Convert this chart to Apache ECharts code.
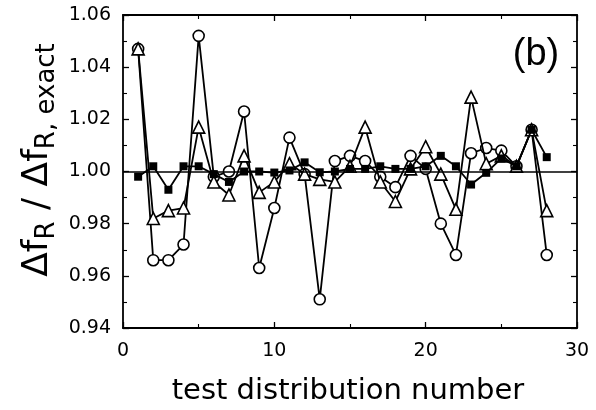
<!DOCTYPE html>
<html><head><meta charset="utf-8">
<script src="https://cdn.jsdelivr.net/npm/echarts@6/dist/echarts.min.js"></script>
<style>html,body{margin:0;padding:0;background:#fff}#c{width:596px;height:410px}</style>
</head><body><div id="c"></div>
<script>
const xValues = [1,2,3,4,5,6,7,8,9,10,11,12,13,14,15,16,17,18,19,20,21,22,23,24,25,26,27,28];
const circles = [1.047,0.966,0.966,0.972,1.052,0.998,1.000,1.023,0.963,0.986,1.013,0.999,0.951,1.004,1.006,1.004,0.998,0.994,1.006,1.001,0.980,0.968,1.007,1.009,1.008,1.002,1.016,0.968];
const triangles = [1.047,0.982,0.985,0.986,1.017,0.996,0.991,1.006,0.992,0.996,1.003,0.999,0.997,0.996,1.002,1.017,0.996,0.9885,1.001,1.0095,0.999,0.9855,1.0285,1.003,1.006,1.002,1.016,0.985];
const squares = [0.998,1.002,0.993,1.002,1.002,0.999,0.996,1.000,1.000,0.9996,1.0004,1.0035,0.9997,1.000,1.001,1.001,1.002,1.001,1.001,1.002,1.006,1.002,0.995,0.9995,1.005,1.002,1.016,1.0055];
const refValue = 1.00;
const xMin = 0, xMax = 30, xStep = 10;
const yMin = 0.94, yMax = 1.06, yStep = 0.02;
const xTitle = 'test distribution number';
const panelLabel = '(b)';

const FONT = 'DejaVu Sans';
const pair = (ys) => xValues.map((x, i) => [x, ys[i]]);
const axisCommon = {
  axisLine: { show: true, onZero: false, lineStyle: { color: '#000', width: 1.8 } },
  axisTick: { show: true, inside: true, length: 6, lineStyle: { color: '#000', width: 1.3 } },
  minorTick: { show: true, splitNumber: 2, length: 4, lineStyle: { color: '#000', width: 1.1 } },
  splitLine: { show: false }
};
const chart = echarts.init(document.getElementById('c'), null, { renderer: 'canvas' });
chart.setOption({
  animation: false,
  backgroundColor: '#fff',
  grid: { left: 123, right: 19, top: 15, bottom: 82 },
  xAxis: [
    Object.assign({ type: 'value', min: xMin, max: xMax, interval: xStep, position: 'bottom',
      axisLabel: { color: '#000', fontFamily: FONT, fontSize: 19, margin: 14 } }, axisCommon),
    Object.assign({ type: 'value', min: xMin, max: xMax, interval: xStep, position: 'top',
      axisLabel: { show: false } }, axisCommon)
  ],
  yAxis: [
    Object.assign({ type: 'value', min: yMin, max: yMax, interval: yStep, position: 'left',
      axisLabel: { color: '#000', fontFamily: FONT, fontSize: 19, margin: 12,
        formatter: v => v.toFixed(2) } }, axisCommon),
    Object.assign({ type: 'value', min: yMin, max: yMax, interval: yStep, position: 'right',
      axisLabel: { show: false } }, axisCommon)
  ],
  series: [
    { type: 'line', name: 'circles', data: pair(circles), symbol: 'circle', symbolSize: 11,
      lineStyle: { color: '#000', width: 1.8 },
      itemStyle: { color: '#fff', borderColor: '#000', borderWidth: 1.6 }, z: 2,
      markLine: { silent: true, symbol: 'none', label: { show: false },
        lineStyle: { color: '#000', width: 1.6, type: 'solid' }, data: [{ yAxis: refValue }] } },
    { type: 'line', name: 'triangles', data: pair(triangles), symbol: 'triangle', symbolSize: 12,
      lineStyle: { color: '#000', width: 1.8 },
      itemStyle: { color: '#fff', borderColor: '#000', borderWidth: 1.6 }, z: 3 },
    { type: 'line', name: 'squares', data: pair(squares), symbol: 'rect', symbolSize: 8,
      lineStyle: { color: '#000', width: 1.8 },
      itemStyle: { color: '#000', borderColor: '#000', borderWidth: 0 }, z: 4 }
  ],
  graphic: [
    { type: 'text', x: 348, y: 391, style: { text: xTitle, fontFamily: FONT, fontSize: 29,
      fill: '#000', textAlign: 'center', textVerticalAlign: 'middle' } },
    { type: 'text', x: 536, y: 55, style: { text: panelLabel, fontFamily: 'Liberation Sans', fontSize: 38,
      fill: '#000', textAlign: 'center', textVerticalAlign: 'middle' } },
    { type: 'text', x: 40, y: 160, rotation: Math.PI / 2,
      style: { text: '{m|Δf}{s|R}{m| / Δf}{s|R, exact}', textAlign: 'center', textVerticalAlign: 'middle',
        fill: '#000',
        rich: {
          m: { fontFamily: FONT, fontSize: 36, lineHeight: 40, verticalAlign: 'top', fill: '#000' },
          s: { fontFamily: FONT, fontSize: 26, lineHeight: 28, verticalAlign: 'bottom', padding: [26, 0, 0, 0], fill: '#000' }
        } } }
  ]
});
</script></body></html>
